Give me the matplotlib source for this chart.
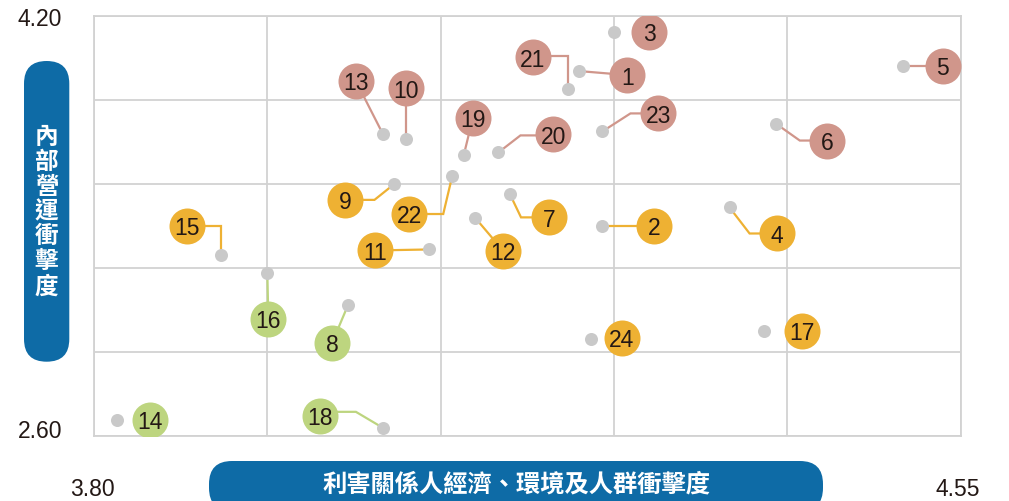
import matplotlib.pyplot as plt
from matplotlib.patches import FancyBboxPatch
from matplotlib.transforms import IdentityTransform, ScaledTranslation
import numpy as np

# 議題編號、利害關係人衝擊度 (x)、內部營運衝擊度 (y)、類別
ids = list(range(1, 25))
x_vals = [4.22, 4.24, 4.25, 4.35, 4.50, 4.39, 4.16, 4.02, 4.06, 4.07, 4.09, 4.13,
          4.05, 3.82, 3.91, 3.95, 4.38, 4.05, 4.12, 4.15, 4.21, 4.11, 4.24, 4.23]
y_vals = [3.99, 3.40, 4.14, 3.47, 4.01, 3.79, 3.52, 3.10, 3.56, 3.73, 3.31, 3.43,
          3.75, 2.66, 3.29, 3.22, 3.00, 2.63, 3.67, 3.68, 3.92, 3.59, 3.76, 2.97]
groups = ["high", "mid", "high", "mid", "high", "high", "mid", "low", "mid", "high", "mid", "mid",
          "high", "low", "mid", "low", "mid", "low", "high", "high", "high", "mid", "high", "mid"]

x_range = (3.80, 4.55)
y_range = (2.60, 4.20)
x_label = "利害關係人經濟、環境及人群衝擊度"
y_label = "內部營運衝擊度"

colors = {"high": "#D0968B", "mid": "#EEB133", "low": "#BDD57F"}
dot_color = "#C9C9C9"
text_color = "#231815"

# 標籤圓圈相對於資料點的位移 (像素)，以及引線轉折點
label_offset = {
    1: (48, -4, []), 2: (52, 0, []), 3: (35, 0, None), 4: (47, -26, [(20, -26)]),
    5: (40, 0, []), 6: (51, -17, [(24, -17)]), 7: (39, -23, [(11, -23)]),
    8: (-16, -38, []), 9: (-49, -16, [(-20, -16)]), 10: (0, 51, []),
    11: (-54, -1, []), 12: (28, -33, []), 13: (-27, 53, []), 14: (33, 0, None),
    15: (-34, 29, [(0, 29)]), 16: (1, -46, []), 17: (38, 0, None),
    18: (-63, 12, [(-27, 16), (-63, 16)]), 19: (9, 37, []),
    20: (55, 18, [(22, 17), (55, 17)]), 21: (-35, 32, [(0, 33), (-35, 33)]),
    22: (-43, -38, [(-9, -38)]), 23: (56, 18, [(28, 18)]), 24: (31, 1, None),
}

fig = plt.figure(figsize=(10.09, 5.01), dpi=100)
W, H = 1009, 501
ax = fig.add_axes([94 / W, (H - 435.7) / H, 866.7 / W, 419.7 / H])
ax.set_xlim(*x_range)
ax.set_ylim(*y_range)
ax.set_xticks(np.linspace(x_range[0], x_range[1], 6))
ax.set_yticks(np.linspace(y_range[0], y_range[1], 6))
ax.tick_params(length=0, labelbottom=False, labelleft=False)
ax.grid(True, color="#D2D2D2", linewidth=1.3)
ax.set_axisbelow(True)
for s in ax.spines.values():
    s.set_color("#D2D2D2")
    s.set_linewidth(1.3)

# 引線
for i, x, y, g in zip(ids, x_vals, y_vals, groups):
    dx, dy, elbows = label_offset[i]
    if elbows is None:
        continue
    px, py = ax.transData.transform((x, y))
    pts = [(0, 0)] + elbows
    if not elbows or elbows[-1][0] != dx:
        pts.append((dx, dy))
    xs = [px + p[0] for p in pts]
    ys = [py + p[1] for p in pts]
    ax.plot(xs, ys, color=colors[g], lw=1.6, transform=IdentityTransform(),
            zorder=2, solid_joinstyle="miter")

ax.scatter(x_vals, y_vals, s=88, color=dot_color, zorder=3, linewidths=0)

for i, x, y, g in zip(ids, x_vals, y_vals, groups):
    dx, dy, _ = label_offset[i]
    shift = ax.transData + ScaledTranslation(dx / 100, dy / 100, fig.dpi_scale_trans)
    ax.scatter([x], [y], s=(36 * 0.72) ** 2, color=colors[g], linewidths=0,
               transform=shift, zorder=4)
    ax.annotate(str(i), xy=(x, y), xytext=(dx * 0.72, dy * 0.72 - 0.3),
                textcoords="offset points", ha="center", va="center_baseline",
                fontsize=16.5, color=text_color, family="Liberation Sans", zorder=5)

# 藍色膠囊標題
pill_y = FancyBboxPatch((24, H - 361.7), 45.3, 300.7, boxstyle="round,pad=0,rounding_size=22.6",
                        fc="#0E6BA6", ec="none", transform=IdentityTransform())
pill_x = FancyBboxPatch((209, -10), 614, 50, boxstyle="round,pad=0,rounding_size=23",
                        fc="#0E6BA6", ec="none", transform=IdentityTransform())
fig.patches.extend([pill_y, pill_x])

cjk = ["Noto Sans CJK TC", "DejaVu Sans"]
fig.text(46.5 / W, (H - 211.5) / H, "\n".join(y_label), ha="center", va="center",
         color="white", fontsize=17, fontweight="bold", family=cjk, linespacing=1.05)
fig.text(516 / W, (H - 484) / H, x_label, ha="center", va="center",
         color="white", fontsize=17.5, fontweight="bold", family=cjk)

# 軸端數值
num = dict(fontsize=16.5, color=text_color, family="Liberation Sans")
fig.text(62 / W, (H - 19) / H, "4.20", ha="right", va="center", **num)
fig.text(62 / W, (H - 432) / H, "2.60", ha="right", va="center", **num)
fig.text(92 / W, (H - 489) / H, "3.80", ha="center", va="center", **num)
fig.text(958 / W, (H - 489) / H, "4.55", ha="center", va="center", **num)

fig.savefig("out.png", dpi=100)
